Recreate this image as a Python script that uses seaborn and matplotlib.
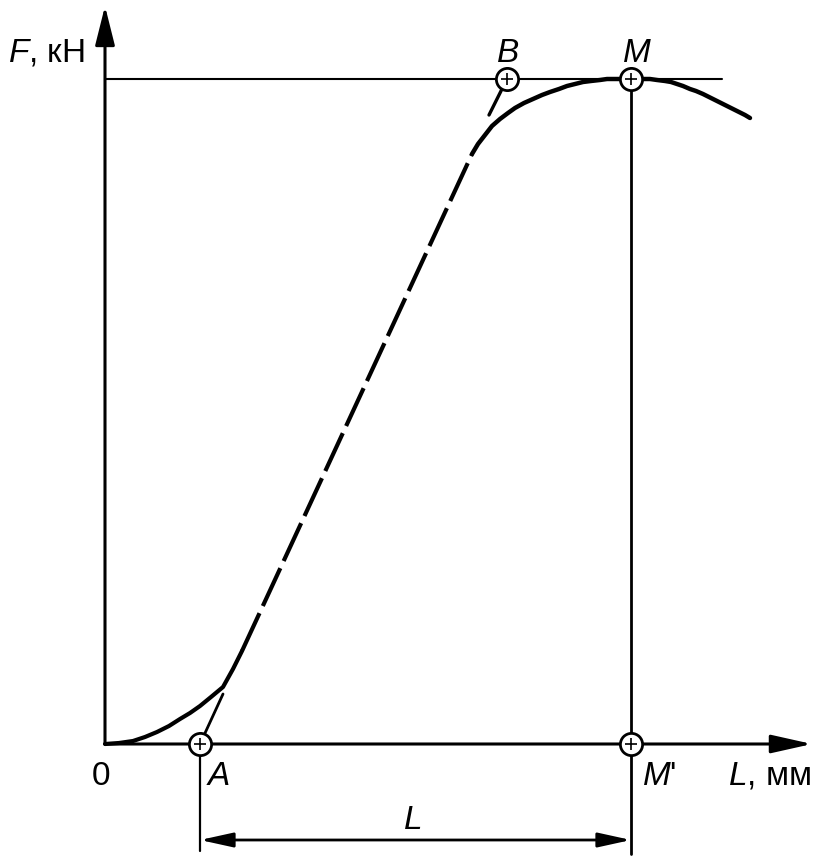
import matplotlib
matplotlib.use("Agg")
import matplotlib.pyplot as plt
import seaborn as sns

# ---- data (diagram units: origin at 0, L to the right, F upward) ----
toe_x = [0, 14, 28, 40, 52, 64, 75, 85, 95, 106, 118, 128, 137]
toe_y = [0, 1, 3, 7, 12, 18, 25, 31, 38, 47, 57, 75, 93]

top_x = [367, 373, 380, 387, 395, 403, 410, 419, 428, 437, 445, 454, 462, 470, 478,
         486, 495, 502, 510, 518, 526, 535, 545, 552, 560, 566, 572, 578, 585, 591,
         598, 604, 610, 616, 622, 628, 634, 640, 645]
top_y = [590, 600, 609, 618, 625, 631, 636, 641, 645, 649, 652, 655, 658, 660, 662,
         663, 664, 665, 665, 665, 665, 665, 665, 664, 663, 662, 660, 658, 655, 653,
         650, 647, 644, 641, 638, 635, 632, 629, 626]

dash_x = [137, 367]
dash_y = [93, 590]

thinA_x = [95, 118]
thinA_y = [0, 50]
thinB_x = [384, 402]
thinB_y = [629, 665]

pt_names = ["A", "B", "M", "M'"]
pt_x = [95, 402, 526, 526]
pt_y = [0, 665, 665, 0]

F_max = 665
L_A = 95
L_M = 526
x_axis_end = 707
y_axis_end = 738
hline_end = 617

sns.set_theme(style="white")
plt.rcParams['font.family'] = ['Liberation Sans', 'DejaVu Sans']
plt.rcParams['mathtext.fontset'] = 'custom'
plt.rcParams['mathtext.it'] = 'Liberation Sans:italic'
plt.rcParams['mathtext.rm'] = 'Liberation Sans'
plt.rcParams['text.color'] = 'black'

fig = plt.figure(figsize=(8.23, 8.62), dpi=100)
ax = fig.add_axes([0, 0, 1, 1])
ax.set_xlim(-105, 823 - 105)
ax.set_ylim(745 - 862, 745)
ax.axis("off")

K = "black"

# axes with arrows
ax.annotate("", xy=(x_axis_end, 0), xytext=(0, 0),
            arrowprops=dict(arrowstyle="-|>,head_length=1.25,head_width=0.28",
                            mutation_scale=20, lw=2.2, color=K, shrinkA=0, shrinkB=0))
ax.annotate("", xy=(0, y_axis_end), xytext=(0, 0),
            arrowprops=dict(arrowstyle="-|>,head_length=1.2,head_width=0.3",
                            mutation_scale=20, lw=2.2, color=K, shrinkA=0, shrinkB=0))

# reference lines
ax.plot([0, hline_end], [F_max, F_max], color=K, lw=1.5)
ax.plot([L_M, L_M], [F_max, -110], color=K, lw=2.0)
ax.plot([L_A, L_A], [0, -107], color=K, lw=1.6)

# dimension arrow
ax.annotate("", xy=(L_A, -96), xytext=(L_M, -96),
            arrowprops=dict(arrowstyle="<|-|>,head_length=1.0,head_width=0.22",
                            mutation_scale=20, lw=2.0, color=K, shrinkA=0, shrinkB=0))

# curve
sns.lineplot(x=toe_x, y=toe_y, sort=False, estimator=None, color=K, lw=3.0, ax=ax)
sns.lineplot(x=top_x, y=top_y, sort=False, estimator=None, color=K, lw=3.2, ax=ax)
sns.lineplot(x=dash_x, y=dash_y, sort=False, estimator=None, color=K, lw=3.0, ax=ax)
ax.lines[-1].set_dashes((10, 1.9))
sns.lineplot(x=thinA_x, y=thinA_y, sort=False, estimator=None, color=K, lw=2.0, ax=ax)
sns.lineplot(x=thinB_x, y=thinB_y, sort=False, estimator=None, color=K, lw=2.4, ax=ax)

# points
ax.scatter(pt_x, pt_y, s=16**2, facecolor="white", edgecolor=K, linewidth=2.0, zorder=5)
ax.scatter(pt_x, pt_y, s=8**2, marker="+", color=K, linewidth=1.2, zorder=6)

fs = 24
ax.text(-97, 683, r"$\mathit{F}$, кН", fontsize=fs, ha="left", va="baseline", color=K)
ax.text(403, 683, r"$\mathit{B}$", fontsize=fs, ha="center", va="baseline", color=K)
ax.text(532, 683, r"$\mathit{M}$", fontsize=fs, ha="center", va="baseline", color=K)
ax.text(-4, -40, "0", fontsize=fs, ha="center", va="baseline", color=K)
ax.text(113, -40, r"$\mathit{A}$", fontsize=fs, ha="center", va="baseline", color=K)
ax.text(537, -40, r"$\mathit{M}$'", fontsize=fs, ha="left", va="baseline", color=K)
ax.text(623, -40, r"$\mathit{L}$, мм", fontsize=fs, ha="left", va="baseline", color=K)
ax.text(307, -84, r"$\mathit{L}$", fontsize=fs, ha="center", va="baseline", color=K)

fig.savefig("out.png", dpi=100, facecolor="white")
